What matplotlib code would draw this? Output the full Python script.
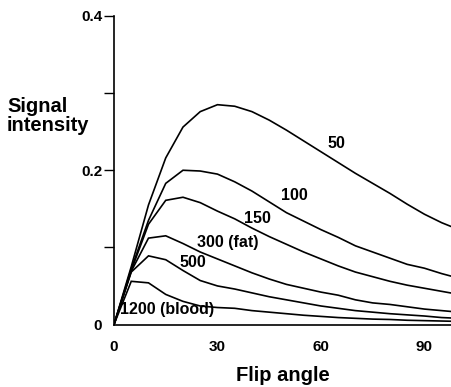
import matplotlib
matplotlib.use("Agg")
import matplotlib.pyplot as plt

angles = [0, 5, 10, 15, 20, 25, 30, 35, 40, 45, 50, 55, 60, 65, 70, 75, 80, 85, 90, 95, 100]
s50 = [0, 0.075, 0.155, 0.216, 0.256, 0.276, 0.285, 0.283, 0.276, 0.265, 0.252, 0.238, 0.224, 0.210, 0.196, 0.183, 0.170, 0.156, 0.143, 0.132, 0.123]
s100 = [0, 0.072, 0.135, 0.183, 0.200, 0.199, 0.195, 0.185, 0.173, 0.159, 0.145, 0.134, 0.123, 0.113, 0.102, 0.094, 0.086, 0.078, 0.073, 0.066, 0.060]
s150 = [0, 0.070, 0.130, 0.161, 0.165, 0.158, 0.147, 0.137, 0.125, 0.114, 0.104, 0.094, 0.085, 0.076, 0.068, 0.062, 0.056, 0.051, 0.047, 0.043, 0.039]
s300 = [0, 0.069, 0.112, 0.115, 0.105, 0.094, 0.085, 0.076, 0.067, 0.059, 0.052, 0.047, 0.042, 0.038, 0.032, 0.028, 0.026, 0.023, 0.020, 0.018, 0.016]
s500 = [0, 0.068, 0.089, 0.084, 0.070, 0.057, 0.050, 0.046, 0.041, 0.036, 0.032, 0.028, 0.024, 0.021, 0.018, 0.016, 0.014, 0.0125, 0.011, 0.009, 0.008]
s1200 = [0, 0.056, 0.054, 0.039, 0.030, 0.024, 0.022, 0.021, 0.018, 0.016, 0.014, 0.012, 0.0105, 0.009, 0.008, 0.007, 0.0065, 0.0055, 0.005, 0.0045, 0.004]

series = [s50, s100, s150, s300, s500, s1200]
labels = ["50", "100", "150", "300 (fat)", "500", "1200 (blood)"]
label_pos = [(64.6, 0.229), (52.3, 0.1615), (41.7, 0.1316), (32.9, 0.100), (23.0, 0.0746), (15.5, 0.0136)]

xticks = [0, 30, 60, 90]
xticklabels = ["0", "30", "60", "90"]
yticks = [0, 0.1, 0.2, 0.3, 0.4]
yticklabels = ["0", "", "0.2", "", "0.4"]

FONT = "Liberation Sans"

fig = plt.figure(figsize=(4.52, 3.87), dpi=100)
ax = fig.add_axes([114 / 452, 62.5 / 387, 1 - 114 / 452, 308.5 / 387])

for s in series:
    ax.plot(angles, s, color="black", lw=1.2, solid_joinstyle="miter")

for lab, (x, y) in zip(labels, label_pos):
    ax.text(x, y, lab, ha="center", va="baseline", fontsize=11.5,
            fontweight="bold", family=FONT)

ax.set_xlim(0, 98)
ax.set_ylim(0, 0.4)
ax.spines["top"].set_visible(False)
ax.spines["right"].set_visible(False)
ax.spines["left"].set_linewidth(1.2)
ax.spines["bottom"].set_linewidth(1.2)

ax.set_xticks(xticks)
ax.set_xticklabels(xticklabels, fontsize=11, fontweight="bold", family=FONT)
ax.tick_params(axis="x", length=0, pad=11)
ax.set_yticks(yticks)
ax.set_yticklabels(yticklabels, fontsize=11, fontweight="bold", family=FONT)
ax.tick_params(axis="y", length=7, width=1.0, pad=1.5)
ax.yaxis.get_major_ticks()[0].tick1line.set_visible(False)

fig.text(283 / 452, (387 - 381) / 387, "Flip angle", ha="center", va="baseline",
         fontsize=14.5, fontweight="bold", family=FONT)
fig.text(7 / 452, (387 - 112) / 387, "Signal", ha="left", va="baseline",
         fontsize=14.5, fontweight="bold", family=FONT)
fig.text(7 / 452, (387 - 131) / 387, "intensity", ha="left", va="baseline",
         fontsize=14.5, fontweight="bold", family=FONT)

fig.savefig("out.png", dpi=100)
